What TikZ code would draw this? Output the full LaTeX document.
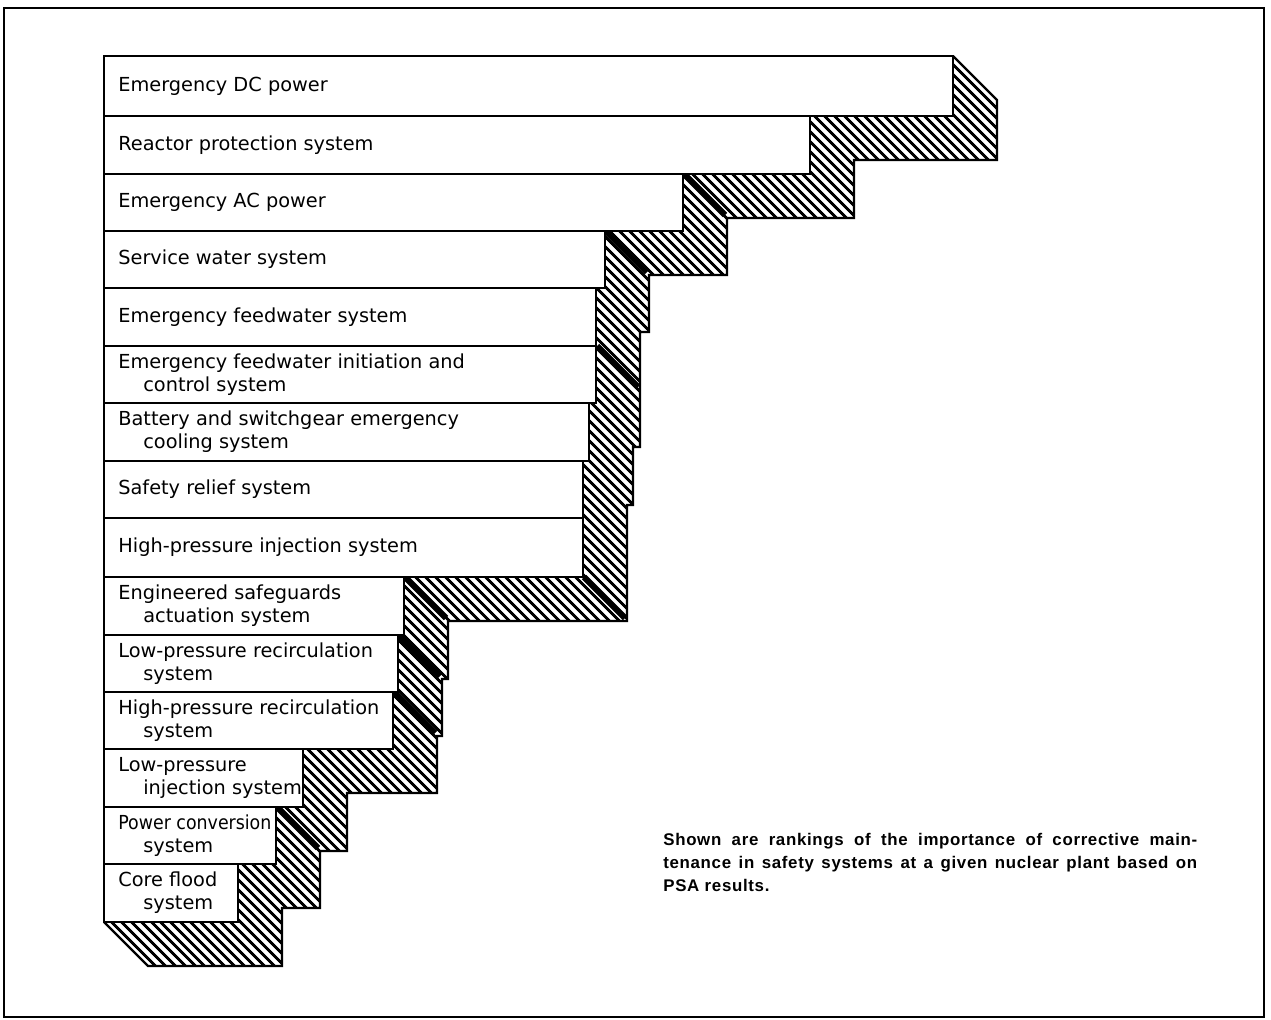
\documentclass[tikz,border=0pt]{standalone}
\usepackage{fontspec}
\setmainfont{DejaVu Sans}
\newfontfamily\capfont[LetterSpace=4]{Liberation Sans}
\usetikzlibrary{patterns.meta}

\tikzset{
	bar/.style={draw, fill=white, line width=1pt},
	lbl/.style={anchor=west, inner sep=0pt, align=left, font=\fontsize{11}{13}\selectfont},
	hatch/.style={pattern={Lines[angle=-45, distance=4pt, line width=1.7pt]}},
	darkedge/.style={line width=3.6pt},
	capline/.style={anchor=base west, inner sep=0pt, font=\capfont\bfseries\fontsize{9.6}{13}\selectfont}
}

\begin{document}
\begin{tikzpicture}[x=0.02cm, y=-0.02cm]
	\useasboundingbox (0,0) rectangle (1271,1020);
	%frame
	\draw[line width=1.4pt] (4,8) rectangle (1264,1017);
	
	%depth of the bars
	\fill[hatch] (104,56) -- (953,56) -- (997,100) -- (997,160) -- (854,160) -- (854,218)
		-- (727,218) -- (727,275) -- (649,275) -- (649,332) -- (640,332) -- (640,447)
		-- (633,447) -- (633,505) -- (627,505) -- (627,621) -- (448,621) -- (448,679)
		-- (442,679) -- (442,736) -- (437,736) -- (437,793) -- (347,793) -- (347,851)
		-- (320,851) -- (320,908) -- (282,908) -- (282,966) -- (148,966) -- (104,922) -- cycle;
	\foreach \x/\y in {683/174, 605/231, 596/346, 583/577, 404/577, 398/635, 393/692, 276/807}{
		\draw[darkedge] (\x+1,\y) -- ++(41,41);
	}
	\draw[line width=1.3pt] (953,56) -- (997,100) -- (997,160) -- (854,160) -- (854,218)
		-- (727,218) -- (727,275) -- (649,275) -- (649,332) -- (640,332) -- (640,447)
		-- (633,447) -- (633,505) -- (627,505) -- (627,621) -- (448,621) -- (448,679)
		-- (442,679) -- (442,736) -- (437,736) -- (437,793) -- (347,793) -- (347,851)
		-- (320,851) -- (320,908) -- (282,908) -- (282,966) -- (148,966) -- (104,922);
	
	%bars
	\foreach \yt/\yb/\xr in {56/116/953, 116/174/810, 174/231/683, 231/288/605, 288/346/596,
		346/403/596, 403/461/589, 461/518/583, 518/577/583, 577/635/404, 635/692/398,
		692/749/393, 749/807/303, 807/864/276, 864/922/238}{
		\draw[bar] (104,\yt) rectangle (\xr,\yb);
	}
	
	\node[lbl] (dcpower) at (118,86) {Emergency DC power};
	\node[lbl] (rps) at (118,145) {Reactor protection system};
	\node[lbl] (acpower) at (118,202.5) {Emergency AC power};
	\node[lbl] (sws) at (118,259.5) {Service water system};
	\node[lbl] (efw) at (118,317) {Emergency feedwater system};
	\node[lbl] (efic) at (118,374.5) {Emergency feedwater initiation and\\\hspace*{0.5cm}control system};
	\node[lbl] (battery) at (118,432) {Battery and switchgear emergency\\\hspace*{0.5cm}cooling system};
	\node[lbl] (relief) at (118,489.5) {Safety relief system};
	\node[lbl] (hpi) at (118,547.5) {High-pressure injection system};
	\node[lbl] (esas) at (118,606) {Engineered safeguards\\\hspace*{0.5cm}actuation system};
	\node[lbl] (lpr) at (118,663.5) {Low-pressure recirculation\\\hspace*{0.5cm}system};
	\node[lbl] (hpr) at (118,720.5) {High-pressure recirculation\\\hspace*{0.5cm}system};
	\node[lbl] (lpi) at (118,778) {Low-pressure\\\hspace*{0.5cm}injection system};
	\node[lbl] (pcs) at (118,835.5) {\scalebox{0.9}[1]{Power conversion}\\\hspace*{0.5cm}system};
	\node[lbl] (cfs) at (118,893) {Core flood\\\hspace*{0.5cm}system};
	
	%caption
	\node[capline] (cap1) at (663,845) {\makebox[10.68cm][s]{Shown are rankings of the importance of corrective main-}};
	\node[capline] (cap2) at (663,868) {\makebox[10.68cm][s]{tenance in safety systems at a given nuclear plant based on}};
	\node[capline] (cap3) at (663,891) {PSA results.};
\end{tikzpicture}
\end{document}
